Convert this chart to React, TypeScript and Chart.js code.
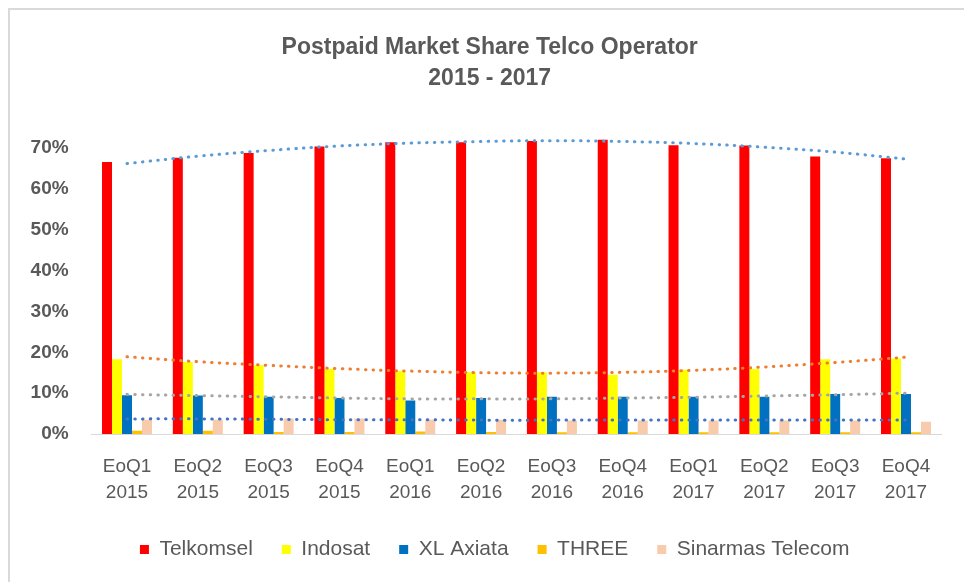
import React, { useEffect, useRef } from "react";
import { Chart, registerables } from "chart.js";

Chart.register(...registerables);

const categories: string[][] = [
  ["EoQ1", "2015"], ["EoQ2", "2015"], ["EoQ3", "2015"], ["EoQ4", "2015"],
  ["EoQ1", "2016"], ["EoQ2", "2016"], ["EoQ3", "2016"], ["EoQ4", "2016"],
  ["EoQ1", "2017"], ["EoQ2", "2017"], ["EoQ3", "2017"], ["EoQ4", "2017"],
];

const telkomsel = [66.6, 67.6, 68.8, 70.4, 71.4, 71.4, 71.7, 72.0, 70.7, 70.6, 67.9, 67.5];
const indosat = [18.3, 17.6, 16.8, 15.9, 15.4, 15.1, 15.1, 14.5, 15.7, 15.9, 18.3, 18.5];
const xlAxiata = [9.5, 9.4, 9.1, 8.8, 8.2, 8.8, 9.1, 9.1, 9.1, 9.1, 9.8, 9.8];
const three = [0.8, 0.8, 0.5, 0.5, 0.6, 0.5, 0.4, 0.4, 0.4, 0.4, 0.4, 0.4];
const sinarmas = [3.5, 3.5, 3.8, 3.8, 3.5, 3.5, 3.3, 3.3, 3.3, 3.3, 3.3, 3.0];

const telkomselTrend = [66.2, 68.0, 69.4, 70.5, 71.2, 71.6, 71.8, 71.6, 71.1, 70.2, 69.0, 67.3];
const indosatTrend = [18.9, 17.7, 16.8, 16.0, 15.4, 15.0, 14.9, 15.1, 15.6, 16.4, 17.5, 18.8];
const xlTrend = [9.7, 9.4, 9.1, 8.8, 8.6, 8.6, 8.6, 8.8, 9.0, 9.3, 9.6, 10.0];
const sinarmasTrend = [3.7, 3.7, 3.6, 3.5, 3.5, 3.4, 3.4, 3.4, 3.4, 3.4, 3.4, 3.4];

const yTicks = { min: 0, max: 75, step: 10 };

const FONT = "'Liberation Sans', Arial, sans-serif";
const TEXT = "#595959";

function trend(data: number[], color: string) {
  return {
    type: "line" as const,
    data,
    borderColor: color,
    backgroundColor: color,
    borderWidth: 3,
    borderDash: [0.5, 7.2],
    borderCapStyle: "round" as const,
    pointRadius: 0,
    tension: 0.4,
    fill: false,
    order: -1,
  };
}

// nudges the full-width title and legend boxes sideways after layout
const shiftBoxes = {
  id: "shiftBoxes",
  afterLayout(chart: any) {
    if (chart.legend) {
      chart.legend.left += 13;
      chart.legend.right += 13;
    }
    if (chart.titleBlock) {
      chart.titleBlock.left += 8;
      chart.titleBlock.right += 8;
    }
  },
};

export default function App() {
  const ref = useRef<HTMLCanvasElement | null>(null);

  useEffect(() => {
    if (!ref.current) return;
    const chart = new Chart(ref.current, {
      type: "bar",
      data: {
        labels: categories,
        datasets: [
          { label: "Telkomsel", data: telkomsel, backgroundColor: "#FF0000", borderWidth: 0 },
          { label: "Indosat", data: indosat, backgroundColor: "#FFFF00", borderWidth: 0 },
          { label: "XL Axiata", data: xlAxiata, backgroundColor: "#0070C0", borderWidth: 0 },
          { label: "THREE", data: three, backgroundColor: "#FFC000", borderWidth: 0 },
          { label: "Sinarmas Telecom", data: sinarmas, backgroundColor: "#F8CBAD", borderWidth: 0 },
          trend(telkomselTrend, "#5B9BD5"),
          trend(indosatTrend, "#ED7D31"),
          trend(xlTrend, "#A5A5A5"),
          trend(sinarmasTrend, "#4472C4"),
        ] as any,
      },
      plugins: [shiftBoxes],
      options: {
        animation: false,
        responsive: false,
        devicePixelRatio: 1,
        datasets: { bar: { categoryPercentage: 0.706, barPercentage: 1.0 } },
        layout: { padding: { left: 22, right: 22.6, top: 10, bottom: 12 } },
        plugins: {
          title: {
            display: true,
            text: ["Postpaid Market Share Telco Operator", "2015 - 2017"],
            color: TEXT,
            font: { family: FONT, size: 23, weight: "bold", lineHeight: 1.35 },
            padding: { top: 22, bottom: 33.5 },
          },
          legend: {
            position: "bottom",
            labels: {
              boxWidth: 9,
              boxHeight: 9,
              padding: 29,
              color: TEXT,
              font: { family: FONT, size: 21 },
              filter: (item: any) => item.datasetIndex < 5,
            },
          },
          tooltip: { enabled: false },
        },
        scales: {
          x: {
            grid: {
              display: true,
              drawOnChartArea: false,
              drawTicks: true,
              tickLength: 20,
              color: "rgba(0,0,0,0)",
            },
            border: { display: true, color: "#D9D9D9", width: 1 },
            ticks: {
              padding: 0,
              color: TEXT,
              font: { family: FONT, size: 19, lineHeight: 1.37 },
              maxRotation: 0,
              autoSkip: false,
            },
            afterFit: (s: any) => {
              s.height = 76;
            },
          },
          y: {
            min: yTicks.min,
            max: yTicks.max,
            grid: { display: false, drawTicks: false },
            border: { display: false },
            ticks: {
              stepSize: yTicks.step,
              includeBounds: false,
              padding: 23,
              color: TEXT,
              font: { family: FONT, size: 19, weight: "bold" },
              callback: (v: any) => `${v}%`,
            },
            afterFit: (s: any) => {
              s.width = 69.6;
            },
          },
        },
      } as any,
    });
    return () => chart.destroy();
  }, []);

  return (
    <div
      style={{
        position: "fixed",
        left: 0,
        top: 0,
        width: 964,
        height: 582,
        background: "#FFFFFF",
        overflow: "hidden",
      }}
    >
      <div
        style={{
          position: "absolute",
          left: 8,
          top: 8,
          width: 980,
          height: 600,
          borderTop: "2px solid #D9D9D9",
          borderLeft: "2px solid #D9D9D9",
        }}
      />
      <canvas
        ref={ref}
        width={964}
        height={582}
        style={{ position: "absolute", left: 0, top: 0, width: 964, height: 582 }}
      />
    </div>
  );
}
